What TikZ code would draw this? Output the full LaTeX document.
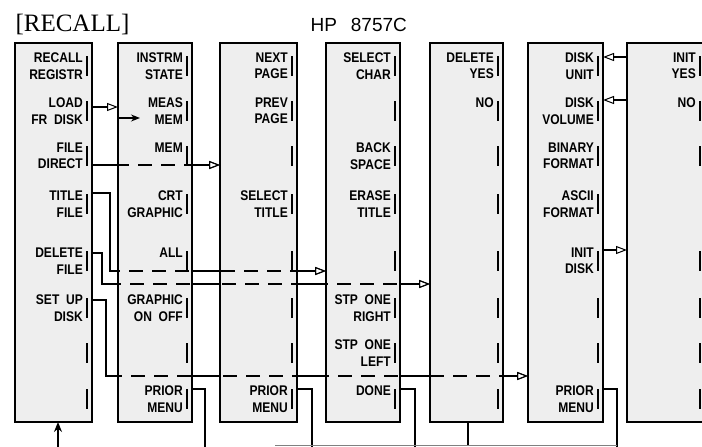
\documentclass[tikz,border=0pt]{standalone}
\usepackage{fontspec}
\setmainfont{Liberation Serif}
\newfontfamily\keyfont{Liberation Sans}[FakeStretch=0.86]
\newfontfamily\modelfont{Liberation Sans}
\usepackage{tikz}
\usetikzlibrary{arrows.meta}
\pgfdeclarelayer{bg}
\pgfsetlayers{bg,main}

\begin{document}
\begin{tikzpicture}[x=1pt, y=-1pt,
    menubox/.style={draw, line width=1.7pt, fill=gray!13, minimum height=379pt, anchor=north west, outer sep=0pt, inner sep=0pt},
    keylabel/.style={anchor=east, align=right, inner sep=0pt, font=\keyfont\fontsize{14}{16.5}\selectfont\bfseries},
    keytick/.style={line width=1.7pt},
    link/.style={line width=1.4pt},
    hidden/.style={line width=1.4pt, dash pattern=on 14pt off 9pt},
    feeds/.style={-{Triangle[open, length=11pt, width=8pt, line width=1pt]}}]
    \useasboundingbox (0,0) rectangle (702,447);

    % headings
    \node[anchor=base west, font=\fontsize{25}{28}\selectfont] (hardkey) at (12,31) {[RECALL]};
    \node[anchor=base west, font=\modelfont\fontsize{19}{22}\selectfont] (model) at (307,31) {HP\hspace{14pt}8757C};

    % the menus
    \node[menubox, minimum width=77pt] (recall) at (15,43) {};
    \node[menubox, minimum width=74pt] (loadmenu) at (118,43) {};
    \node[menubox, minimum width=77pt] (dirmenu) at (220,43) {};
    \node[menubox, minimum width=74pt] (titlemenu) at (326,43) {};
    \node[menubox, minimum width=73pt] (delmenu) at (430,43) {};
    \node[menubox, minimum width=75pt] (diskmenu) at (528,43) {};
    \node[menubox, minimum width=78pt] (initmenu) at (627,43) {};

    % softkeys
    \foreach \y/\txt in {66/{RECALL\\REGISTR}, 111/{LOAD\\FR~~DISK}, 156/{FILE\\DIRECT}, 204/{TITLE\\FILE}, 261/{DELETE\\FILE}, 308/{SET~~UP\\DISK}}
        \node[keylabel] (recall-\y) at (83,\y) {\txt};
    \foreach \y/\txt in {66/{INSTRM\\STATE}, 111/{MEAS\\MEM}, 156/{MEM\\~}, 204/{CRT\\GRAPHIC}, 261/{ALL\\~}, 308/{GRAPHIC\\ON~~OFF}, 399/{PRIOR\\MENU}}
        \node[keylabel] (load-\y) at (183,\y) {\txt};
    \foreach \y/\txt in {66/{NEXT\\PAGE}, 111/{PREV\\PAGE}, 204/{SELECT\\TITLE}, 399/{PRIOR\\MENU}}
        \node[keylabel] (dir-\y) at (288,\y) {\txt};
    \foreach \y/\txt in {66/{SELECT\\CHAR}, 156/{BACK\\SPACE}, 204/{ERASE\\TITLE}, 308/{STP~~ONE\\RIGHT}, 353/{STP~~ONE\\LEFT}, 399/{DONE\\~}}
        \node[keylabel] (title-\y) at (391,\y) {\txt};
    \foreach \y/\txt in {66/{DELETE\\YES}, 111/{NO\\~}}
        \node[keylabel] (del-\y) at (494,\y) {\txt};
    \foreach \y/\txt in {66/{DISK\\UNIT}, 111/{DISK\\VOLUME}, 156/{BINARY\\FORMAT}, 204/{ASCII\\FORMAT}, 261/{INIT\\DISK}, 399/{PRIOR\\MENU}}
        \node[keylabel] (disk-\y) at (594,\y) {\txt};
    \foreach \y/\txt in {66/{INIT\\YES}, 111/{NO\\~}}
        \node[keylabel] (init-\y) at (696,\y) {\txt};

    % key brackets
    \foreach \x in {87,187,292,395,498,598}
        \foreach \y in {66,111,156,204,261,308,353,399}
            \draw[keytick] (\x,\y) ++(0,-10) -- ++(0,20);
    \foreach \y in {66,111,156,261,308,353,399}
        \draw[keytick] (700,\y) ++(0,-10) -- ++(0,20);

    % rows
    \coordinate (loadrow) at (0,107);
    \coordinate (memrow) at (140,118);
    \coordinate (dirrow) at (0,165);
    \coordinate (titlerow) at (110,193);
    \coordinate (titlein) at (0,271);
    \coordinate (delrow) at (102,253);
    \coordinate (delin) at (0,284);
    \coordinate (setrow) at (106,300);
    \coordinate (setin) at (0,376);
    \coordinate (priorrow) at (0,389);
    \coordinate (unitrow) at (0,57);
    \coordinate (volrow) at (0,100);
    \coordinate (initrow) at (0,250);
    \coordinate (ret) at (58,447);
    \coordinate (b2) at (205,447);
    \coordinate (b3) at (312,447);
    \coordinate (b4) at (415,447);
    \coordinate (b5) at (468,445);
    \coordinate (b6) at (617,447);
    \coordinate (bl) at (275,445);

    % lines that run behind the menus
    \begin{pgfonlayer}{bg}
        \fill[white] (0,0) rectangle (702,447);
        \draw[link, feeds] (recall.east |- dirrow) -- (dirmenu.west |- dirrow);
        \draw[link, feeds] (recall.east |- titlerow) -- (titlerow) -- (titlerow |- titlein) -- (titlemenu.west |- titlein);
        \draw[link, feeds] (recall.east |- delrow) -- (delrow) -- (delrow |- delin) -- (delmenu.west |- delin);
        \draw[link, feeds] (recall.east |- setrow) -- (setrow) -- (setrow |- setin) -- (diskmenu.west |- setin);
    \end{pgfonlayer}
    \draw[hidden, feeds] (recall.east |- dirrow) -- (dirmenu.west |- dirrow);
    \draw[hidden, feeds] (recall.east |- titlerow) -- (titlerow) -- (titlerow |- titlein) -- (titlemenu.west |- titlein);
    \draw[hidden, feeds] (recall.east |- delrow) -- (delrow) -- (delrow |- delin) -- (delmenu.west |- delin);
    \draw[hidden, feeds] (recall.east |- setrow) -- (setrow) -- (setrow |- setin) -- (diskmenu.west |- setin);

    \draw[link, feeds] (recall.east |- loadrow) -- (loadmenu.west |- loadrow);
    \draw[link, -{Stealth[length=9pt, width=7pt]}] (loadmenu.west |- memrow) -- (memrow);
    \draw[link, feeds] (initmenu.west |- unitrow) -- (diskmenu.east |- unitrow);
    \draw[link, feeds] (initmenu.west |- volrow) -- (diskmenu.east |- volrow);
    \draw[link, feeds] (diskmenu.east |- initrow) -- (initmenu.west |- initrow);

    % back to the previous menu
    \draw[link] (loadmenu.east |- priorrow) -| (b2);
    \draw[link] (dirmenu.east |- priorrow) -| (b3);
    \draw[link] (titlemenu.east |- priorrow) -| (b4);
    \draw[link] (diskmenu.east |- priorrow) -| (b6);
    \draw[link] (delmenu.south -| b5) -- (b5);
    \draw[gray, line width=0.7pt] (bl) -- (b6 |- bl);
    \draw[link, -{Stealth[length=10pt, width=8pt]}] (ret) -- (ret |- recall.south);
\end{tikzpicture}
\end{document}
